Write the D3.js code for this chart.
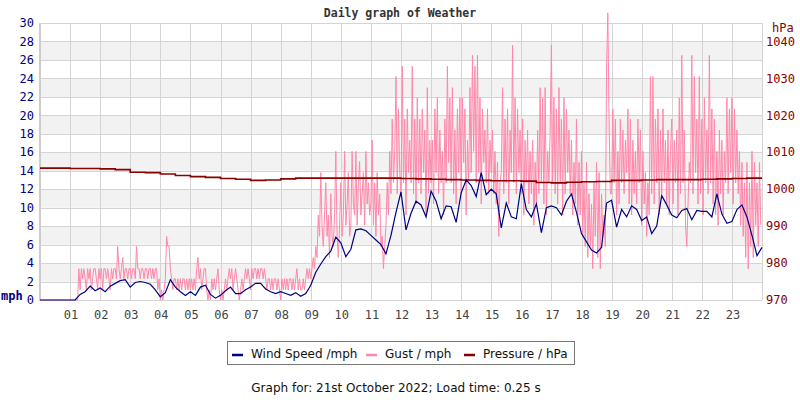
<!DOCTYPE html>
<html>
<head>
<meta charset="utf-8">
<script src="https://cdn.jsdelivr.net/npm/d3@7"></script>
<style>
  body { margin: 0; background: #fff; }
  svg text { font-family: "DejaVu Sans Mono", monospace; }
</style>
</head>
<body>
<svg id="chart" width="800" height="400"></svg>
<script>
// wind speed, mph, every 10 minutes from 00:00
const windSpeed = [
  0, 0, 0, 0, 0, 0,
  0, 0, 0.6, 0.9, 1.5, 1.0,
  1.3, 0.9, 1.5, 1.8, 2.1, 2.2,
  1.4, 1.9, 2.0, 1.9, 1.7, 1.1,
  0.35, 0.8, 2.2, 1.4, 0.9, 0.5,
  0.9, 0.5, 1.4, 1.6, 0.6, 0.2,
  0.5, 1.0, 1.4, 0.7, 0.7, 1.1,
  1.4, 1.8, 1.8, 1.2, 0.9, 0.7,
  0.9, 0.7, 0.5, 0.8, 0.4, 0.7,
  1.6, 3.0, 3.9, 4.7, 5.3, 6.8,
  6.2, 4.7, 5.5, 7.6, 7.7, 7.5,
  7.0, 6.5, 6.0, 5.0, 7.0, 9.5,
  11.7, 7.6, 9.4, 10.7, 10.3, 9.0,
  11.8, 10.7, 8.8, 10.2, 10.1, 8.4,
  11.6, 13.0, 12.4, 11.2, 13.8, 11.4,
  12.0, 11.5, 7.8, 10.5, 9.0, 8.8,
  12.6, 9.8, 9.0, 10.4, 7.3, 10.0,
  10.2, 10.0, 9.2, 10.7, 11.5, 9.5,
  7.2, 6.3, 5.4, 5.1, 5.7, 10.5,
  10.8, 7.9, 9.8, 9.0, 10.2, 9.8,
  8.6, 9.0, 7.2, 8.0, 11.3, 10.3,
  9.2, 8.9, 9.7, 9.9, 8.7, 9.7,
  9.6, 9.6, 9.0, 11.5, 9.3, 8.3,
  8.5, 9.8, 10.3, 9.0, 7.0, 4.8,
  5.7
];

// gust, mph, every 2.5 minutes from 00:00 (one row per hour)
const gust = [
  0,0,0,0,0,0,0,0,0,0,0,0,0,0,0,0,0,0,0,0,0,0,0,0,
  0,0,0,0,0,0,0,3.4,1.1,3.4,2.3,3.4,2.3,1.1,3.4,2.3,3.4,1.1,2.3,3.4,3.4,2.3,1.1,3.4,
  2.3,3.4,1.1,3.4,3.4,2.3,3.4,2.3,1.1,3.4,2.3,3.4,3.4,2.3,5.8,3.4,2.3,3.4,4.6,2.3,3.4,3.4,2.3,3.4,
  3.4,2.3,3.4,3.4,2.3,5.8,3.4,3.4,2.3,3.4,3.4,2.3,3.4,3.4,2.3,3.4,3.4,2.3,3.4,2.3,3.4,3.4,1.1,2.3,
  0,1.1,0,1.1,2.3,6.9,5.8,5.8,3.4,2.3,1.1,2.3,2.3,1.1,2.3,1.1,2.3,1.1,2.3,2.3,1.1,2.3,1.1,2.3,
  1.1,2.3,1.1,2.3,1.1,3.4,4.6,2.3,3.4,1.1,2.3,3.4,3.4,1.1,0,1.1,0,2.3,1.1,2.3,1.1,2.3,3.4,1.1,
  0,1.1,0,1.1,2.3,1.1,2.3,3.4,2.3,3.4,1.1,2.3,3.4,2.3,1.1,0,1.1,2.3,1.1,2.3,3.4,2.3,3.4,2.3,
  1.1,3.4,2.3,3.4,3.4,2.3,3.4,2.3,3.4,3.4,2.3,3.4,2.3,1.1,2.3,2.3,1.1,2.3,1.1,2.3,2.3,1.1,2.3,1.1,
  0,2.3,1.1,2.3,1.1,2.3,1.1,2.3,2.3,1.1,2.3,1.1,2.3,3.4,1.1,2.3,1.1,1.1,2.3,1.1,2.3,3.4,2.3,3.4,
  2.3,3.4,4.6,3.4,5.8,4.6,9.2,6.9,13.8,8.1,5.8,9.2,12.7,6.9,9.2,4.6,11.5,6.9,5.8,9.2,16.1,6.9,4.6,8.1,
  12.7,6.9,9.2,16.1,8.1,10.4,13.8,6.9,8.1,16.1,10.4,9.2,16.1,8.1,12.7,15.0,9.2,11.5,13.8,8.1,16.1,10.4,12.7,9.2,
  10.4,17.3,8.1,12.7,6.9,13.8,9.2,11.5,5.8,6.9,3.4,5.8,8.1,12.7,9.2,16.1,11.5,19.6,12.7,16.1,24.2,11.5,20.7,13.8,
  11.5,25.3,12.7,19.6,9.2,20.7,13.8,17.3,12.7,25.3,11.5,19.6,10.4,21.9,12.7,19.6,11.5,20.7,13.8,18.4,9.2,23.0,11.5,17.3,
  12.7,17.3,10.4,20.7,13.8,21.9,11.5,18.4,12.7,16.1,9.2,19.6,12.7,25.3,14.9,21.9,12.7,23.0,11.5,18.4,10.4,20.7,13.8,21.9,
  11.5,21.9,14.9,20.7,9.2,17.3,12.7,23.0,13.8,26.5,16.1,25.3,12.7,26.5,13.8,21.9,10.4,20.7,14.9,18.4,12.7,20.7,11.5,17.3,
  13.8,18.4,11.5,16.1,10.4,14.9,6.9,12.7,13.8,23.0,11.5,19.6,12.7,20.7,10.4,18.4,13.8,27.6,12.7,21.9,11.5,20.7,13.8,18.4,
  11.5,19.6,9.2,17.3,12.7,18.4,10.4,16.1,11.5,17.3,8.1,14.9,10.4,18.4,11.5,23.0,12.7,21.9,10.4,23.0,9.2,16.1,12.7,18.4,
  27.6,12.7,21.9,11.5,20.7,10.4,23.0,12.7,19.6,9.2,21.9,11.5,20.7,13.8,18.4,11.5,17.3,9.2,14.9,10.4,19.6,8.1,14.9,9.2,
  16.1,6.9,12.7,5.8,14.9,4.6,11.5,5.8,10.4,3.4,12.7,6.9,14.9,4.6,13.8,3.4,11.5,6.9,9.2,5.8,25.3,31.1,19.6,11.5,
  11.5,20.7,12.7,19.6,9.2,16.1,10.4,19.6,12.7,18.4,11.5,17.3,13.8,20.7,10.4,19.6,9.2,17.3,11.5,16.1,10.4,19.6,12.7,18.4,
  8.1,16.1,10.4,13.8,6.9,12.7,9.2,24.2,11.5,24.2,10.4,19.6,12.7,20.7,9.2,18.4,11.5,20.7,12.7,17.3,10.4,18.4,9.2,16.1,
  19.6,10.4,17.3,12.7,18.4,9.2,21.9,11.5,26.5,12.7,18.4,8.1,5.8,10.4,14.9,12.7,26.5,11.5,24.2,13.8,19.6,10.4,24.2,11.5,
  19.6,9.2,21.9,12.7,18.4,11.5,26.5,12.7,20.7,10.4,19.6,9.2,16.1,8.1,18.4,11.5,17.3,9.2,16.1,12.7,21.9,11.5,20.7,13.8,
  21.9,10.4,20.7,12.7,18.4,11.5,16.1,8.1,14.9,6.9,12.7,4.6,14.9,3.4,12.7,5.8,16.1,4.6,14.9,8.1,12.7,5.8,14.9,8.1
];

// pressure, hPa, every 30 minutes from 00:00
const pressure = [
  1005.7, 1005.7, 1005.6, 1005.6, 1005.5, 1005.3, 1004.6, 1004.5,
  1004.1, 1003.7, 1003.4, 1003.2, 1002.9, 1002.7, 1002.4, 1002.5,
  1002.8, 1003.0, 1003.0, 1003.0, 1003.0, 1003.0, 1003.0, 1003.0,
  1002.9, 1002.8, 1002.7, 1002.6, 1002.5, 1002.4, 1002.3, 1002.3,
  1002.2, 1001.8, 1001.7, 1001.9, 1002.0, 1002.1, 1002.4, 1002.4,
  1002.5, 1002.6, 1002.6, 1002.6, 1002.7, 1002.8, 1002.9, 1003.0,
  1003.0
];

const mphTicks = d3.range(0, 31, 2);
const hpaTicks = [970, 980, 990, 1000, 1010, 1020, 1030, 1040];
const hourLabels = ["01","02","03","04","05","06","07","08","09","10","11","12",
                    "13","14","15","16","17","18","19","20","21","22","23"];

const series = [
  { name: "Wind Speed /mph", color: "#000080" },
  { name: "Gust / mph", color: "#ff88aa" },
  { name: "Pressure / hPa", color: "#880000" }
];

const svg = d3.select("#chart");
const plotLeft = 40, plotRight = 762, plotTop = 23, plotBottom = 300;

const x = d3.scaleLinear().domain([0, 24]).range([plotLeft, plotRight]);
const y = d3.scaleLinear().domain([0, 30]).range([plotBottom, plotTop]);
const yP = d3.scaleLinear().domain([970, 1045]).range([plotBottom, plotTop]);

// background bands
svg.append("g")
  .selectAll("rect")
  .data(mphTicks.filter(d => d % 4 === 2 && d < 30))
  .join("rect")
    .attr("x", plotLeft)
    .attr("width", plotRight - plotLeft)
    .attr("y", d => y(d + 2))
    .attr("height", d => y(d) - y(d + 2))
    .attr("fill", "#f2f2f2");

// grid
const grid = svg.append("g").attr("stroke", "#d4d4d4").attr("stroke-width", 1);
grid.selectAll(".h")
  .data(mphTicks)
  .join("line")
    .attr("class", "h")
    .attr("x1", plotLeft).attr("x2", plotRight)
    .attr("y1", d => Math.round(y(d)) + 0.5)
    .attr("y2", d => Math.round(y(d)) + 0.5);
grid.selectAll(".v")
  .data(d3.range(1, 25))
  .join("line")
    .attr("class", "v")
    .attr("x1", d => Math.round(x(d)) + 0.5)
    .attr("x2", d => Math.round(x(d)) + 0.5)
    .attr("y1", plotTop).attr("y2", plotBottom);

// left axis bar
svg.append("line")
  .attr("x1", plotLeft).attr("x2", plotLeft)
  .attr("y1", plotTop).attr("y2", plotBottom + 1)
  .attr("stroke", "#cccccc").attr("stroke-width", 2);

// lines
const gustLine = d3.line()
  .x((d, i) => x(i / 24))
  .y(d => y(d));
const windLine = d3.line()
  .x((d, i) => x(i / 6))
  .y(d => y(d));
const pressLine = d3.line()
  .x((d, i) => x(i / 2))
  .y(d => yP(d))
  .curve(d3.curveStepAfter);

svg.append("path")
  .datum(gust)
  .attr("fill", "none")
  .attr("stroke", series[1].color)
  .attr("stroke-width", 1)
  .attr("d", gustLine);

svg.append("path")
  .datum(pressure)
  .attr("fill", "none")
  .attr("stroke", series[2].color)
  .attr("stroke-width", 1.6)
  .attr("d", pressLine);

svg.append("path")
  .datum(windSpeed)
  .attr("fill", "none")
  .attr("stroke", series[0].color)
  .attr("stroke-width", 1.2)
  .attr("d", windLine);

// left labels
svg.append("g")
  .attr("font-size", 12)
  .attr("fill", "#000080")
  .attr("text-anchor", "end")
  .selectAll("text")
  .data(mphTicks)
  .join("text")
    .attr("x", 34)
    .attr("y", d => y(d))
    .attr("dy", "0.35em")
    .text(d => d);

svg.append("text")
  .attr("x", 1).attr("y", 300)
  .attr("font-size", 12).attr("font-weight", "bold")
  .attr("fill", "#000080")
  .text("mph");

// right labels
svg.append("g")
  .attr("font-size", 12)
  .attr("fill", "#880000")
  .selectAll("text")
  .data(hpaTicks)
  .join("text")
    .attr("x", 766)
    .attr("y", d => yP(d))
    .attr("dy", "0.35em")
    .text(d => d);

svg.append("text")
  .attr("x", 772).attr("y", 32)
  .attr("font-size", 12)
  .attr("fill", "#880000")
  .text("hPa");

// hour labels
svg.append("g")
  .attr("font-size", 12)
  .attr("fill", "#444")
  .attr("text-anchor", "middle")
  .selectAll("text")
  .data(hourLabels)
  .join("text")
    .attr("x", (d, i) => x(i + 1) + 1)
    .attr("y", 319)
    .text(d => d);

// title
svg.append("text")
  .attr("x", 400).attr("y", 17)
  .attr("text-anchor", "middle")
  .attr("font-size", 11.5).attr("font-weight", "bold")
  .attr("fill", "#333")
  .text("Daily graph of Weather");

// legend
const legend = svg.append("g");
legend.append("rect")
  .attr("x", 227.5).attr("y", 341.5)
  .attr("width", 347).attr("height", 23)
  .attr("fill", "#fff").attr("stroke", "#777");
const lx = [232, 366, 464];
legend.selectAll(".item")
  .data(series)
  .join("g")
    .attr("class", "item")
    .attr("transform", (d, i) => `translate(${lx[i]},0)`)
    .call(g => g.append("line")
      .attr("x1", 0).attr("x2", 11)
      .attr("y1", 355).attr("y2", 355)
      .attr("stroke", d => d.color).attr("stroke-width", 2.5))
    .call(g => g.append("text")
      .attr("x", 19).attr("y", 358)
      .attr("font-size", 12)
      .attr("fill", "#111")
      .style("font-family", "'DejaVu Sans', sans-serif")
      .text(d => d.name));

svg.append("text")
  .attr("x", 396).attr("y", 392)
  .attr("text-anchor", "middle")
  .attr("font-size", 12)
  .attr("fill", "#111")
  .style("font-family", "'DejaVu Sans', sans-serif")
  .text("Graph for: 21st October 2022; Load time: 0.25 s");
</script>
</body>
</html>
